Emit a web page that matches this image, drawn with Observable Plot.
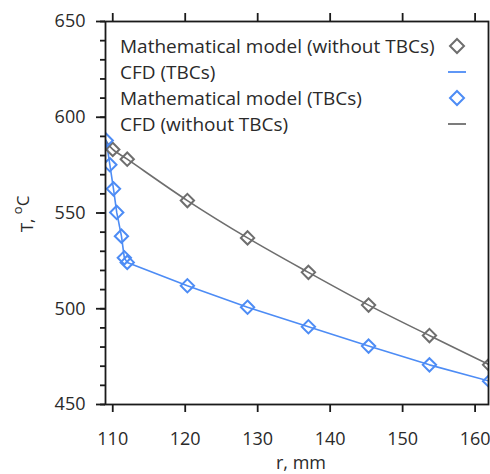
<!DOCTYPE html>
<html>
<head>
<meta charset="utf-8">
<script src="https://cdn.jsdelivr.net/npm/d3@7"></script>
<script src="https://cdn.jsdelivr.net/npm/@observablehq/plot@0.6"></script>
<style>
  html, body { margin: 0; padding: 0; background: #fff; }
  svg { font-family: "Open Sans", sans-serif; }
</style>
</head>
<body>
<div id="chart"></div>
<script>
// Mathematical model (without TBCs)
const modelNoTbcR = [110.0, 112.0, 120.3, 128.6, 137.0, 145.3, 153.7, 162.0];
const modelNoTbcT = [583.2, 578.1, 556.5, 537.0, 519.0, 501.9, 486.0, 470.7];
// Mathematical model (TBCs)
const modelTbcR = [109.1, 109.6, 110.1, 110.55, 111.2, 111.6, 112.0, 120.3, 128.6, 137.0, 145.3, 153.7, 162.0];
const modelTbcT = [587.9, 575.2, 562.6, 550.3, 537.9, 526.6, 524.2, 512.0, 500.8, 490.6, 480.5, 470.7, 462.2];
// CFD (without TBCs)
const cfdNoTbcR = [109.1, 110.0, 112.0, 120.3, 128.6, 137.0, 145.3, 153.7, 162.0];
const cfdNoTbcT = [587.5, 583.2, 578.1, 556.5, 537.0, 519.0, 501.9, 486.0, 470.7];
// CFD (TBCs)
const cfdTbcR = [109.1, 109.6, 110.1, 110.55, 111.2, 111.6, 112.0, 120.3, 128.6, 137.0, 145.3, 153.7, 162.0];
const cfdTbcT = [587.9, 575.2, 562.6, 550.3, 537.9, 526.6, 524.2, 512.0, 500.8, 490.6, 480.5, 470.7, 462.2];

const xTicks = [110, 120, 130, 140, 150, 160];
const yTicks = [450, 500, 550, 600, 650];
const yMinorTicks = d3.range(450, 651, 10);

const legendLabels = [
  "Mathematical model (without TBCs)",
  "CFD (TBCs)",
  "Mathematical model (TBCs)",
  "CFD (without TBCs)"
];
const legendKinds = ["diamond", "line", "diamond", "line"];

const GRAY = "#6e6e6e";
const BLUE = "#4d8cf5";
const legendColors = [GRAY, BLUE, BLUE, GRAY];

const zip = (a, b) => a.map((v, i) => ({r: v, T: b[i]}));
const mNo = zip(modelNoTbcR, modelNoTbcT);
const mTb = zip(modelTbcR, modelTbcT);
const cNo = zip(cfdNoTbcR, cfdNoTbcT);
const cTb = zip(cfdTbcR, cfdTbcT);

const W = 490, H = 474;
const ml = 105, mt = 21, mr = 2, mb = 70;
const axisColor = "#1a1a1a";
const textColor = "#2a2a2a";

const plot = Plot.plot({
  width: W,
  height: H,
  marginLeft: ml,
  marginTop: mt,
  marginRight: mr,
  marginBottom: mb,
  style: {fontFamily: "'Open Sans', sans-serif", fontSize: "18px", color: textColor, background: "#fff"},
  x: {domain: [109, 161.85]},
  y: {domain: [450, 650]},
  marks: [
    Plot.line(cNo, {x: "r", y: "T", stroke: GRAY, strokeWidth: 1.6, curve: "catmull-rom", clip: true}),
    Plot.line(cTb, {x: "r", y: "T", stroke: BLUE, strokeWidth: 1.6, curve: "linear", clip: true}),
    Plot.dot(mNo, {x: "r", y: "T", symbol: "diamond2", r: 6, stroke: GRAY, strokeWidth: 2, fill: "none", clip: true}),
    Plot.dot(mTb, {x: "r", y: "T", symbol: "diamond2", r: 6, stroke: BLUE, strokeWidth: 2, fill: "none", clip: true}),
    Plot.axisY({ticks: yMinorTicks, tickSize: 5, text: null, stroke: axisColor, strokeWidth: 1.8, label: null}),
    Plot.axisY({ticks: yTicks, tickSize: 9, tickPadding: 11, stroke: axisColor, strokeWidth: 1.8, fontSize: 18, label: null}),
    Plot.axisX({ticks: xTicks, tickSize: 8, tickPadding: 20, stroke: axisColor, strokeWidth: 1.8, fontSize: 18, label: null}),
    Plot.axisX({anchor: "top", ticks: xTicks, tickSize: 9, text: null, stroke: axisColor, strokeWidth: 1.8, label: null}),
    Plot.frame({stroke: axisColor, strokeWidth: 1.8})
  ]
});

const svg = d3.select(plot);

// Legend
const lg = svg.append("g").attr("font-size", 19).attr("fill", textColor).attr("text-anchor", "start");
legendLabels.forEach((lab, i) => {
  const cy = mt + 25 + i * 26;
  lg.append("text").attr("x", ml + 15).attr("y", cy).attr("dy", "0.35em").attr("text-anchor", "start").text(lab);
  const sx = W - mr - 31;
  if (legendKinds[i] === "diamond") {
    const s = 7;
    lg.append("path")
      .attr("d", `M${sx},${cy - s}L${sx + s},${cy}L${sx},${cy + s}L${sx - s},${cy}Z`)
      .attr("fill", "none").attr("stroke", legendColors[i]).attr("stroke-width", 2);
  } else {
    lg.append("line").attr("x1", sx - 9).attr("x2", sx + 9).attr("y1", cy).attr("y2", cy)
      .attr("stroke", legendColors[i]).attr("stroke-width", 1.8);
  }
});

// Axis labels
const yl = svg.append("text")
  .attr("transform", `translate(33, 214) rotate(-90)`)
  .attr("text-anchor", "middle").attr("font-size", 17).attr("fill", textColor);
yl.append("tspan").text("T, ");
yl.append("tspan").attr("dy", -11).attr("font-size", 13).text("o");
yl.append("tspan").attr("dy", 6.5).text("C");

svg.append("text")
  .attr("x", 301).attr("y", 469)
  .attr("text-anchor", "middle").attr("font-size", 18).attr("fill", textColor)
  .text("r, mm");

document.getElementById("chart").appendChild(plot);
</script>
</body>
</html>
